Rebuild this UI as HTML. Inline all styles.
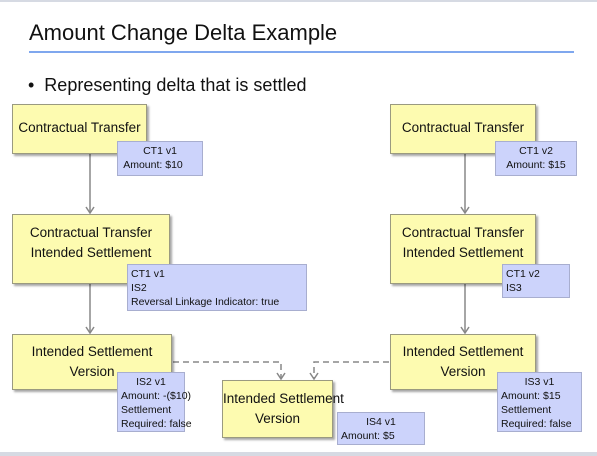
<!DOCTYPE html>
<html><head><style>
body{margin:0;width:597px;height:456px;background:#fff;position:relative;overflow:hidden;font-family:"Liberation Sans",sans-serif}
.y{position:absolute;background:#fdfbb0;border:1px solid #9a9a80;box-shadow:2px 2px 2px rgba(0,0,0,.35);font-size:13.5px;color:#111;display:flex;align-items:center;justify-content:center;text-align:center;line-height:20px;box-sizing:border-box;white-space:nowrap}
.b{position:absolute;background:#ccd3fb;border:1px solid #a8aecf;font-size:10.5px;line-height:14px;color:#111;padding:2px 3px;box-sizing:border-box;white-space:nowrap}
</style></head><body>
<div style="position:absolute;left:0;top:0;width:597px;height:2px;background:#d6dae3"></div>
<div style="position:absolute;left:0;top:452px;width:597px;height:4px;background:#d6dae3"></div>
<div style="position:absolute;left:29px;top:20px;font-size:22px;color:#111">Amount Change Delta Example</div>
<div style="position:absolute;left:29px;top:51px;width:545px;height:2px;background:#7fa7ee"></div>
<div style="position:absolute;left:28px;top:75px;font-size:18px;color:#111">•&nbsp; Representing delta that is settled</div>
<svg style="position:absolute;left:0;top:0" width="597" height="456">
<g stroke="#888" stroke-width="1.5" fill="none">
<line x1="90" y1="153" x2="90" y2="212"/><line x1="90" y1="284" x2="90" y2="332"/>
<line x1="465" y1="153" x2="465" y2="212"/><line x1="465" y1="284" x2="465" y2="332"/>
<path d="M86,207 L90,213 L94,207"/><path d="M86,327 L90,333 L94,327"/>
<path d="M461,207 L465,213 L469,207"/><path d="M461,327 L465,333 L469,327"/>
<polyline stroke-dasharray="6,4" points="173,362 281,362 281,378"/>
<polyline stroke-dasharray="6,4" points="389,362 314,362 314,378"/>
<path d="M277,373 L281,379 L285,373"/><path d="M310,373 L314,379 L318,373"/>
</g></svg>
<div class="y" style="left:12px;top:104px;width:135px;height:50px;padding-bottom:2px">Contractual Transfer</div>
<div class="b" style="left:117px;top:141px;width:86px;height:35px;text-align:center">CT1 v1<br><span style="margin-left:-14px">Amount: $10</span></div>
<div class="y" style="left:390px;top:104px;width:146px;height:50px;padding-bottom:2px">Contractual Transfer</div>
<div class="b" style="left:495px;top:141px;width:82px;height:35px;text-align:center">CT1 v2<br>Amount: $15</div>
<div class="y" style="left:12px;top:214px;width:158px;height:70px;padding-bottom:12px">Contractual Transfer<br>Intended Settlement</div>
<div class="b" style="left:127px;top:264px;width:180px;height:47px">CT1 v1<br>IS2<br>Reversal Linkage Indicator: true</div>
<div class="y" style="left:390px;top:214px;width:146px;height:70px;padding-bottom:12px">Contractual Transfer<br>Intended Settlement</div>
<div class="b" style="left:502px;top:264px;width:68px;height:34px">CT1 v2<br>IS3</div>
<div class="y" style="left:12px;top:334px;width:160px;height:56px">Intended Settlement<br>Version</div>
<div class="b" style="left:117px;top:372px;width:68px;height:60px"><div style="text-align:center">IS2 v1</div>Amount: -($10)<br>Settlement<br>Required: false</div>
<div class="y" style="left:390px;top:334px;width:146px;height:56px">Intended Settlement<br>Version</div>
<div class="b" style="left:497px;top:372px;width:85px;height:60px"><div style="text-align:center">IS3 v1</div>Amount: $15<br>Settlement<br>Required: false</div>
<div class="y" style="left:222px;top:380px;width:111px;height:58px;display:block;padding-top:8px">Intended Settlement<br>Version</div>
<div class="b" style="left:337px;top:412px;width:88px;height:33px"><div style="text-align:center">IS4 v1</div>Amount: $5</div>
</body></html>
